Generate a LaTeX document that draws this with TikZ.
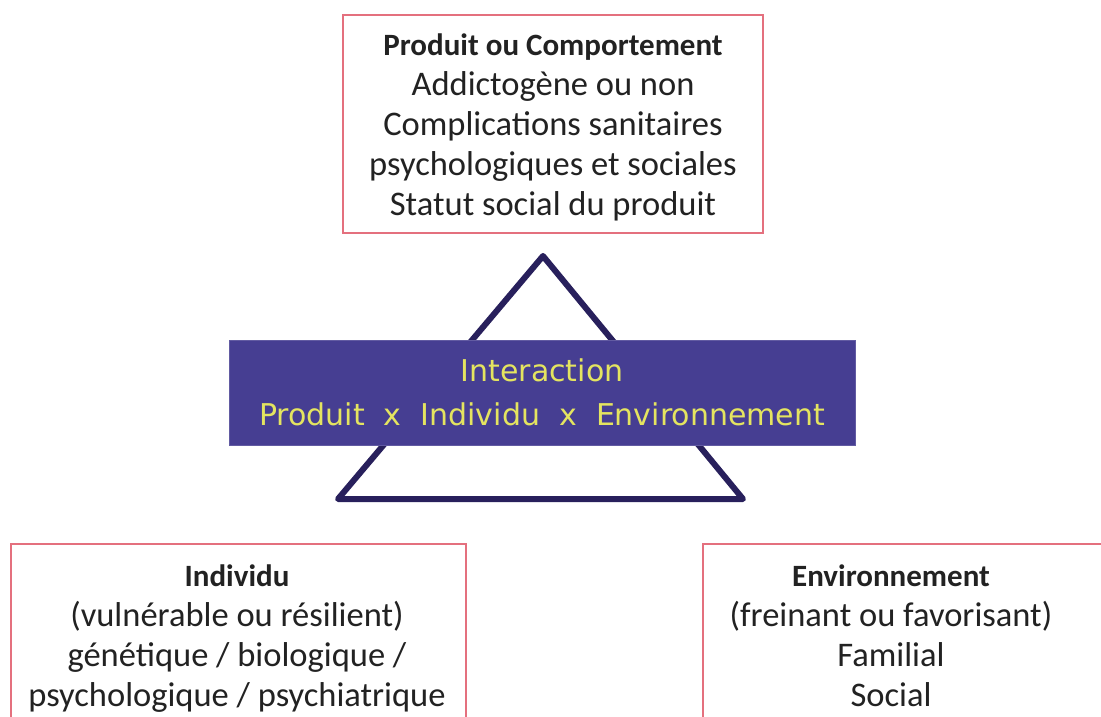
\documentclass[tikz,border=0pt]{standalone}
\usepackage{fontspec}
\setmainfont{Carlito}
\newfontfamily\interfont{DejaVu Sans}
\newcommand{\boxhead}[1]{{\fontsize{31}{40}\selectfont\bfseries #1}}
\begin{document}
\begin{tikzpicture}[x=1pt,y=-1pt,
  redbox/.style={draw=boxred, line width=2.4pt, fill=white, inner sep=0pt},
  boxtext/.style={align=center, text=textgray, font=\fontsize{34.5}{40}\selectfont},
  interbox/.style={fill=interblue, draw=interblue!85!white, line width=1pt,
    minimum width=626pt, minimum height=105pt, align=center, text=interyellow,
    font=\interfont\fontsize{30}{44}\selectfont},
  tri/.style={draw=triblue, line width=6pt, line join=round}]
\definecolor{boxred}{RGB}{228,112,126}
\definecolor{textgray}{RGB}{34,34,34}
\definecolor{interblue}{RGB}{70,62,146}
\definecolor{interyellow}{RGB}{228,228,96}
\definecolor{triblue}{RGB}{40,32,92}
\useasboundingbox (0,0) rectangle (1101,717);
\clip (0,0) rectangle (1101,717);

% product box
\node[redbox, minimum width=420pt, minimum height=218pt] (prod) at (553,124) {};
\node[boxtext] (prodtext) at (553,127)
  {\boxhead{Produit ou Comportement}\\Addictogène ou non\\Complications sanitaires\\psychologiques et sociales\\Statut social du produit};

% interaction triangle
\coordinate (apex) at (543,256);
\coordinate (bl) at (338,499);
\coordinate (br) at (743,499);
\draw[tri] (apex) -- (bl) -- (br) -- cycle;

% interaction banner
\node[interbox] (inter) at (542,392.5)
  {Interaction\\Produit~ x~ Individu~ x~ Environnement};

% individual box
\node[redbox, anchor=north west, minimum width=455pt, minimum height=220pt] (indiv) at (10,543) {};
\node[boxtext] (indivtext) at (237,639)
  {\boxhead{Individu}\\(vulnérable ou résilient)\\génétique / biologique /\\psychologique / psychiatrique};

% environment box
\node[redbox, anchor=north west, minimum width=450pt, minimum height=220pt] (env) at (702,543) {};
\node[boxtext] (envtext) at (891,636)
  {\boxhead{Environnement}\\(freinant ou favorisant)\\Familial\\Social};
\end{tikzpicture}
\end{document}
